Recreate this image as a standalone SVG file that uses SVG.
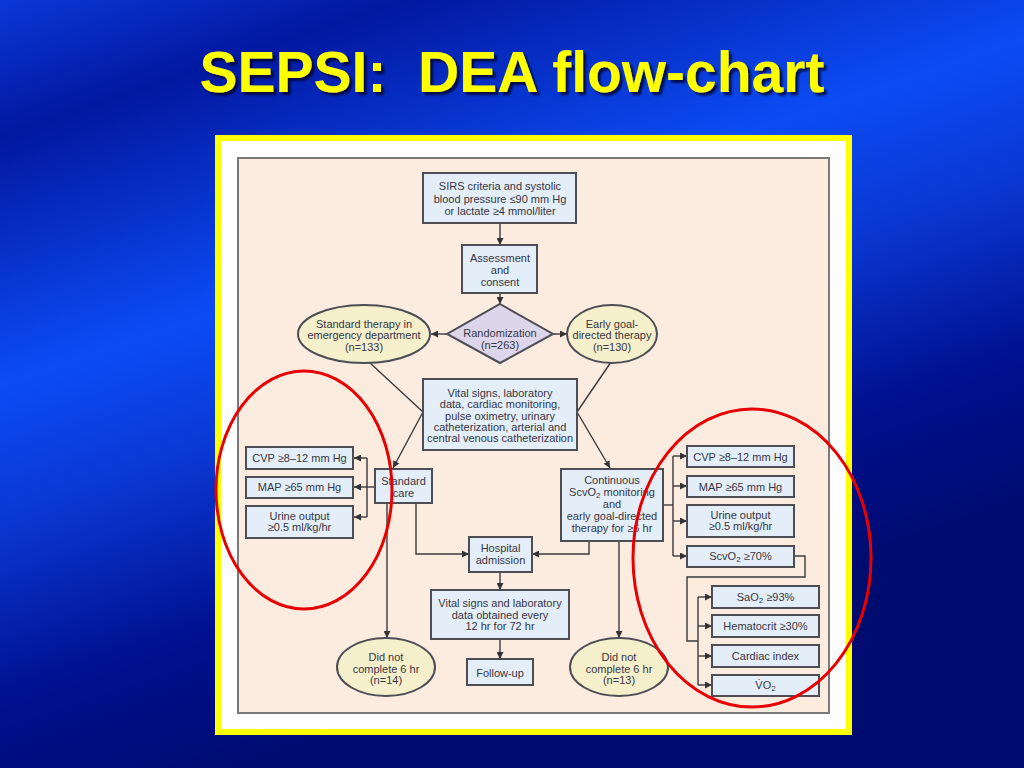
<svg xmlns="http://www.w3.org/2000/svg" width="1024" height="768" viewBox="0 0 1024 768">
<defs>
<linearGradient id="bg" gradientUnits="userSpaceOnUse" x1="0" y1="0" x2="260" y2="768">
<stop offset="0" stop-color="#0a38d8"/>
<stop offset="0.16" stop-color="#0218a0"/>
<stop offset="0.45" stop-color="#0c4cf5"/>
<stop offset="0.62" stop-color="#0a36d0"/>
<stop offset="0.82" stop-color="#00108f"/>
<stop offset="1" stop-color="#000b70"/>
</linearGradient>
<filter id="shadow" x="-5%" y="-20%" width="110%" height="140%">
<feDropShadow dx="3" dy="3" stdDeviation="0.8" flood-color="#000020" flood-opacity="0.75"/>
</filter>
<marker id="ah" viewBox="0 0 10 10" refX="10" refY="5" markerWidth="7" markerHeight="7" markerUnits="userSpaceOnUse" orient="auto">
<path d="M0,0 L10,5 L0,10 z" fill="#333"/>
</marker>
<style>
.box{fill:#e4eef8;stroke:#4d4d55;stroke-width:2}
.ell{fill:#f6efcb;stroke:#4d4d55;stroke-width:2}
.dia{fill:#ddd6ea;stroke:#4d4d55;stroke-width:2}
.t{font-family:"Liberation Sans",Arial,sans-serif;font-size:11px;fill:#363644;text-anchor:middle}
.c{fill:none;stroke:#3a3a3a;stroke-width:1.4}
.ca{fill:none;stroke:#3a3a3a;stroke-width:1.4;marker-end:url(#ah)}
.red{fill:none;stroke:#e80000;stroke-width:3}
.title{font-family:"Liberation Sans",Arial,sans-serif;font-size:57px;font-weight:bold;text-anchor:middle;fill:#ffff00;filter:url(#shadow)}
</style>
</defs>
<rect x="0" y="0" width="1024" height="768" fill="url(#bg)"/>
<text class="title" x="512" y="92">SEPSI:&#160; DEA flow-chart</text>
<rect x="218" y="138" width="631" height="594" fill="#ffffff" stroke="#ffff00" stroke-width="6"/>
<rect x="238" y="158" width="591" height="555" fill="#fcece0" stroke="#7a7a7a" stroke-width="2"/>

<g id="connectors">
<line class="ca" x1="500" y1="223" x2="500" y2="245"/>
<line class="ca" x1="500" y1="293" x2="500" y2="304"/>
<line class="ca" x1="447" y1="334" x2="431" y2="334"/>
<line class="ca" x1="553" y1="334" x2="567" y2="334"/>
<polyline class="c" points="369,362 423,412"/>
<line class="ca" x1="423" y1="412" x2="393" y2="468"/>
<polyline class="c" points="611,362 577,412"/>
<line class="ca" x1="577" y1="412" x2="610" y2="468"/>
<polyline class="c" points="375,487 367,487"/>
<line class="c" x1="367" y1="458" x2="367" y2="517"/>
<line class="ca" x1="367" y1="458" x2="354" y2="458"/>
<line class="ca" x1="367" y1="487" x2="354" y2="487"/>
<line class="ca" x1="367" y1="517" x2="354" y2="517"/>
<polyline class="ca" points="416,503 416,554 469,554"/>
<line class="ca" x1="387" y1="503" x2="387" y2="638"/>
<polyline class="c" points="663,505 673,505"/>
<line class="c" x1="673" y1="456" x2="673" y2="556"/>
<line class="ca" x1="673" y1="456" x2="687" y2="456"/>
<line class="ca" x1="673" y1="486" x2="687" y2="486"/>
<line class="ca" x1="673" y1="521" x2="687" y2="521"/>
<line class="ca" x1="673" y1="556" x2="687" y2="556"/>
<polyline class="ca" points="589,541 589,554 532,554"/>
<line class="ca" x1="619" y1="541" x2="619" y2="638"/>
<polyline class="c" points="794,556 805,556 805,577 687,577 687,641 698,641"/>
<line class="c" x1="698" y1="597" x2="698" y2="685"/>
<line class="ca" x1="698" y1="597" x2="712" y2="597"/>
<line class="ca" x1="698" y1="626" x2="712" y2="626"/>
<line class="ca" x1="698" y1="656" x2="712" y2="656"/>
<line class="ca" x1="698" y1="685" x2="712" y2="685"/>
<line class="ca" x1="500" y1="572" x2="500" y2="590"/>
<line class="ca" x1="500" y1="639" x2="500" y2="659"/>
</g>

<g id="sirs">
<rect class="box" x="423" y="173" width="153" height="50"/>
<text class="t" x="500" y="190">SIRS criteria and systolic</text>
<text class="t" x="500" y="202.5">blood pressure ≤90 mm Hg</text>
<text class="t" x="500" y="215">or lactate ≥4 mmol/liter</text>
</g>
<g id="assessment">
<rect class="box" x="462" y="245" width="75" height="48"/>
<text class="t" x="500" y="262">Assessment</text>
<text class="t" x="500" y="274">and</text>
<text class="t" x="500" y="286">consent</text>
</g>
<g id="randomization">
<polygon class="dia" points="500,304 553,334 500,363 447,334"/>
<text class="t" x="500" y="337">Randomization</text>
<text class="t" x="500" y="349">(n=263)</text>
</g>
<g id="standard-therapy">
<ellipse class="ell" cx="364" cy="334" rx="66" ry="29"/>
<text class="t" x="364" y="327.5">Standard therapy in</text>
<text class="t" x="364" y="339">emergency department</text>
<text class="t" x="364" y="350.5">(n=133)</text>
</g>
<g id="egdt">
<ellipse class="ell" cx="612" cy="334" rx="45" ry="29"/>
<text class="t" x="612" y="327.5">Early goal-</text>
<text class="t" x="612" y="339">directed therapy</text>
<text class="t" x="612" y="350.5">(n=130)</text>
</g>
<g id="vital-signs">
<rect class="box" x="423" y="379" width="154" height="71"/>
<text class="t" x="500" y="397">Vital signs, laboratory</text>
<text class="t" x="500" y="408.3">data, cardiac monitoring,</text>
<text class="t" x="500" y="419.6">pulse oximetry, urinary</text>
<text class="t" x="500" y="430.9">catheterization, arterial and</text>
<text class="t" x="500" y="442.2">central venous catheterization</text>
</g>
<g id="standard-care">
<rect class="box" x="375" y="469" width="57" height="34"/>
<text class="t" x="403.5" y="485">Standard</text>
<text class="t" x="403.5" y="497">care</text>
</g>
<g id="left-cvp">
<rect class="box" x="246" y="447" width="107" height="22"/>
<text class="t" x="299.5" y="462">CVP ≥8–12 mm Hg</text>
</g>
<g id="left-map">
<rect class="box" x="246" y="477" width="107" height="21"/>
<text class="t" x="299.5" y="491">MAP ≥65 mm Hg</text>
</g>
<g id="left-urine">
<rect class="box" x="246" y="506" width="107" height="32"/>
<text class="t" x="299.5" y="520">Urine output</text>
<text class="t" x="299.5" y="531">≥0.5 ml/kg/hr</text>
</g>
<g id="continuous">
<rect class="box" x="561" y="469" width="102" height="72"/>
<text class="t" x="612" y="484">Continuous</text>
<text class="t" x="612" y="496">ScvO<tspan font-size="8" dy="2">2</tspan><tspan dy="-2"> monitoring</tspan></text>
<text class="t" x="612" y="508">and</text>
<text class="t" x="612" y="520">early goal-directed</text>
<text class="t" x="612" y="532">therapy for ≥6 hr</text>
</g>
<g id="right-cvp">
<rect class="box" x="687" y="446" width="107" height="21"/>
<text class="t" x="740.5" y="460.5">CVP ≥8–12 mm Hg</text>
</g>
<g id="right-map">
<rect class="box" x="687" y="476" width="107" height="21"/>
<text class="t" x="740.5" y="490.5">MAP ≥65 mm Hg</text>
</g>
<g id="right-urine">
<rect class="box" x="687" y="505" width="107" height="32"/>
<text class="t" x="740.5" y="519">Urine output</text>
<text class="t" x="740.5" y="530">≥0.5 ml/kg/hr</text>
</g>
<g id="right-scvo2">
<rect class="box" x="687" y="546" width="107" height="21"/>
<text class="t" x="740.5" y="560">ScvO<tspan font-size="8" dy="2">2</tspan><tspan dy="-2"> ≥70%</tspan></text>
</g>
<g id="hospital">
<rect class="box" x="469" y="537" width="63" height="35"/>
<text class="t" x="500.5" y="552">Hospital</text>
<text class="t" x="500.5" y="564">admission</text>
</g>
<g id="vital-lab">
<rect class="box" x="431" y="590" width="138" height="49"/>
<text class="t" x="500" y="607">Vital signs and laboratory</text>
<text class="t" x="500" y="618.5">data obtained every</text>
<text class="t" x="500" y="630">12 hr for 72 hr</text>
</g>
<g id="follow-up">
<rect class="box" x="467" y="659" width="66" height="26"/>
<text class="t" x="500" y="676.5">Follow-up</text>
</g>
<g id="dnc-left">
<ellipse class="ell" cx="386" cy="667" rx="49" ry="29"/>
<text class="t" x="386" y="661">Did not</text>
<text class="t" x="386" y="672.5">complete 6 hr</text>
<text class="t" x="386" y="684">(n=14)</text>
</g>
<g id="dnc-right">
<ellipse class="ell" cx="619" cy="667" rx="49" ry="29"/>
<text class="t" x="619" y="661">Did not</text>
<text class="t" x="619" y="672.5">complete 6 hr</text>
<text class="t" x="619" y="684">(n=13)</text>
</g>
<g id="sao2">
<rect class="box" x="712" y="586" width="107" height="22"/>
<text class="t" x="765.5" y="601">SaO<tspan font-size="8" dy="2">2</tspan><tspan dy="-2"> ≥93%</tspan></text>
</g>
<g id="hematocrit">
<rect class="box" x="712" y="615" width="107" height="22"/>
<text class="t" x="765.5" y="630">Hematocrit ≥30%</text>
</g>
<g id="cardiac-index">
<rect class="box" x="712" y="645" width="107" height="22"/>
<text class="t" x="765.5" y="660">Cardiac index</text>
</g>
<g id="vo2">
<rect class="box" x="712" y="675" width="107" height="21"/>
<text class="t" x="765.5" y="689">V̇O<tspan font-size="8" dy="2">2</tspan></text>
</g>
<g id="highlights">
<ellipse class="red" cx="304" cy="490" rx="88" ry="119"/>
<ellipse class="red" cx="752" cy="558" rx="119" ry="149"/>
</g>
</svg>
